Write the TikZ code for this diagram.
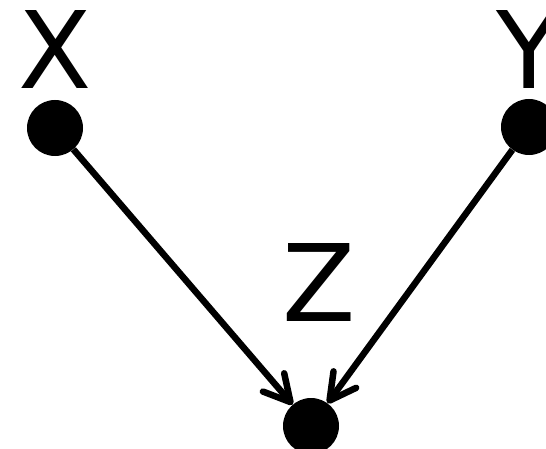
\documentclass[tikz,border=0pt]{standalone}
\usepackage{fontspec}
\setmainfont{DejaVu Sans}
\usetikzlibrary{arrows.meta}
\begin{document}
\begin{tikzpicture}[x=1pt,y=1pt,
  dot/.style={circle,fill=black,minimum size=56pt,inner sep=0pt},
  lbl/.style={inner sep=0pt,font=\fontsize{107}{107}\selectfont},
  arr/.style={line width=6.5pt,-{Straight Barb[length=26pt,width=28pt,line cap=round,line join=round]}}]
\useasboundingbox (0,0) rectangle (546,448);
\node[dot] (X) at (55,320) {};
\node[dot] (Y) at (529,321) {};
\node[dot] (Z) at (311,22) {};
\node[lbl] (lx) at (55,399) {X};
\node[lbl] (ly) at (529,399) {Y};
\node[lbl] (lz) at (319,166) {Z};
\draw[arr] (X) -- (Z);
\draw[arr] (Y) -- (Z);
\end{tikzpicture}
\end{document}
